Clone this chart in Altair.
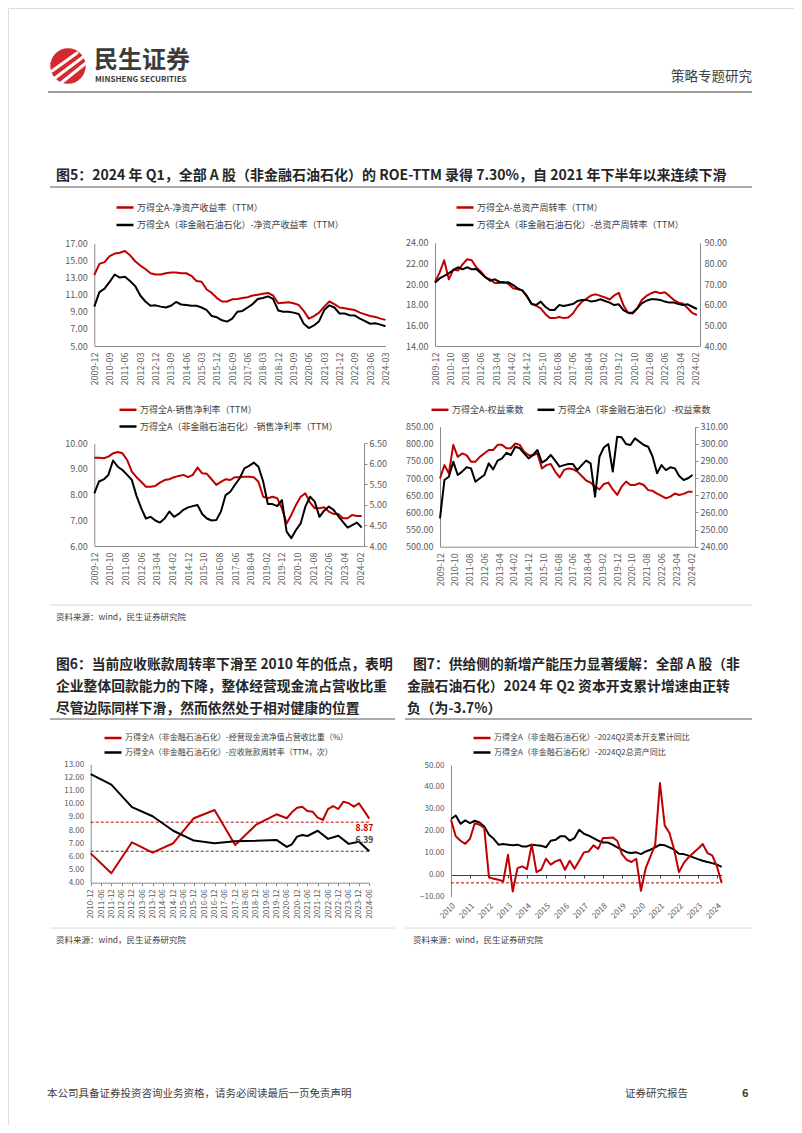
import altair as alt
import pandas as pd

W, H = 786, 1117
FONT = "Noto Sans CJK SC"
RED = "#C00000"
BLK = "#000000"
AX = "#8c8c8c"
LB = "#595959"
TXT = "#404040"


def X(p):
    return p - 8


def Y(p):
    return p - 8


# ------------------------------------------------------------------ data
q_months = list(range(0, 172, 3))  # quarterly, 2009-12 .. 2024-03 (month index)

roe_all = [13.3, 14.6, 14.8, 15.5, 15.8, 15.9, 16.1, 15.6, 14.9, 14.4,
           14.0, 13.5, 13.35, 13.35, 13.5, 13.6, 13.6, 13.5, 13.5, 13.2,
           12.6, 12.5, 11.6, 11.2, 10.6, 10.2, 10.2, 10.45, 10.5, 10.6,
           10.7, 10.9, 11.0, 11.1, 11.2, 10.9, 10.0, 10.05, 10.1, 10.0,
           9.8, 9.1, 8.2, 8.5, 8.9, 9.6, 10.2, 9.9, 9.5, 9.4,
           9.3, 9.2, 8.9, 8.7, 8.5, 8.4, 8.2, 8.05]
roe_ex = [9.6, 11.3, 11.7, 12.5, 13.35, 13.0, 13.1, 12.6, 12.0, 10.9,
          10.2, 9.7, 9.75, 9.6, 9.5, 9.7, 10.15, 9.85, 9.8, 9.7,
          9.7, 9.5, 9.2, 8.5, 8.35, 8.0, 7.85, 8.2, 9.0, 9.1,
          9.5, 9.9, 10.5, 10.6, 10.8, 10.5, 9.15, 9.0, 9.0, 8.9,
          8.75, 7.6, 7.1, 7.4, 7.9, 9.2, 9.75, 9.5, 8.8, 8.8,
          8.6, 8.55, 8.2, 7.9, 7.6, 7.65, 7.5, 7.3]

turn_all = [20.2, 21.1, 22.3, 20.45, 21.4, 21.3, 21.9, 22.4, 22.3, 21.6,
            21.2, 20.65, 20.45, 20.1, 20.1, 20.2, 20.0, 19.6, 19.5, 19.4,
            18.8, 18.1, 17.9, 17.65, 17.1, 16.7, 16.7, 16.8, 16.7, 16.75,
            17.15, 17.8, 18.3, 18.6, 18.9, 19.0, 18.85, 18.7, 18.5, 18.9,
            19.15, 17.95, 17.2, 17.15, 17.65, 18.45, 18.85, 19.1, 19.25, 19.1,
            19.2, 18.85, 18.45, 18.2, 18.1, 17.65, 17.2, 17.0]
turn_ex = [70.6, 72.7, 73.9, 75.2, 76.8, 78.1, 77.1, 78.1, 77.1, 77.3,
           75.2, 73.2, 71.6, 72.3, 71.1, 70.6, 70.8, 69.5, 67.9, 66.8,
           64.2, 60.3, 59.8, 61.5, 59.0, 57.4, 57.4, 59.8, 59.4, 59.8,
           60.3, 61.8, 62.3, 62.3, 61.5, 61.9, 62.6, 61.8, 61.0, 59.8,
           60.2, 57.4, 56.1, 56.1, 58.2, 60.6, 61.9, 62.6, 62.6, 62.3,
           61.5, 61.0, 61.0, 60.3, 59.8, 60.2, 59.0, 57.9]

npm_all = [9.44, 9.44, 9.42, 9.48, 9.61, 9.66, 9.61, 9.35, 8.9, 8.68,
           8.5, 8.31, 8.31, 8.34, 8.47, 8.57, 8.6, 8.68, 8.73, 8.77,
           8.68, 8.77, 9.06, 8.83, 8.81, 8.6, 8.38, 8.5, 8.6, 8.57,
           8.68, 8.68, 8.7, 8.7, 8.68, 8.5, 7.92, 7.86, 7.92, 7.86,
           7.47, 6.88, 7.21, 7.6, 7.92, 8.05, 7.69, 7.47, 7.47, 7.51,
           7.34, 7.25, 7.25, 7.08, 7.08, 7.21, 7.17, 7.17]
npm_ex = [5.28, 5.57, 5.62, 5.73, 6.08, 5.93, 5.85, 5.73, 5.61, 5.22,
          4.92, 4.67, 4.71, 4.62, 4.57, 4.67, 4.84, 4.71, 4.78, 4.88,
          4.94, 4.97, 5.0, 4.78, 4.67, 4.62, 4.63, 4.84, 5.24, 5.32,
          5.49, 5.65, 5.89, 5.95, 6.03, 5.93, 5.57, 5.02, 5.02, 4.97,
          5.12, 4.35, 4.19, 4.39, 4.55, 4.96, 5.2, 5.08, 4.71, 4.86,
          4.96, 4.88, 4.73, 4.59, 4.45, 4.51, 4.57, 4.45]

em_all = [699, 738, 714, 797, 762, 772, 767, 748, 748, 762,
          772, 782, 782, 797, 797, 787, 787, 801, 797, 777,
          767, 767, 772, 728, 738, 741, 719, 702, 724, 728,
          726, 719, 706, 693, 687, 675, 667, 683, 687, 667,
          651, 675, 690, 680, 680, 685, 680, 665, 663, 655,
          648, 641, 646, 655, 651, 654, 660, 660]
em_ex = [256.5, 278.9, 280.8, 289.6, 281.8, 283.8, 286.3, 285.7, 277.9, 279.9,
         281.8, 288.6, 285.1, 290.2, 291.5, 294.8, 293.5, 298.3, 297.4, 294.4,
         291.5, 293.5, 296.4, 289.0, 290.6, 293.5, 290.2, 286.7, 287.6, 288.2,
         288.2, 284.7, 287.6, 290.2, 288.6, 269.2, 292.5, 297.9, 299.9, 283.8,
         304.2, 303.8, 299.9, 299.3, 303.2, 301.3, 299.3, 298.3, 292.5, 282.8,
         287.6, 284.7, 286.3, 285.7, 281.2, 278.9, 279.9, 281.8]

# figure 6 (month index from 2010-12)
cf_months = [0, 12, 24, 36, 48, 60, 72, 84, 96, 108, 114, 117, 120, 123, 126,
             129, 132, 135, 138, 141, 144, 147, 150, 153, 156, 162]
cf_ratio = [6.23, 4.72, 7.07, 6.28, 7.0, 8.9, 9.53, 6.87, 8.39, 9.2, 8.9, 9.35, 9.7, 9.78, 9.45,
            9.4, 8.95, 8.77, 9.6, 9.83, 9.6, 10.16, 10.04, 9.78, 10.04, 8.87]
ar_months = [0, 12, 24, 36, 48, 60, 72, 84, 96, 108, 114, 117, 120, 123, 126,
             132, 138, 144, 150, 156, 162]
ar_turn = [12.25, 11.45, 9.75, 9.05, 7.95, 7.2, 7.0, 7.15, 7.18, 7.25, 6.72, 6.92, 7.5, 7.62, 7.55,
           7.95, 7.33, 7.57, 6.95, 7.12, 6.39]
cf_ref = 8.6
ar_ref = 6.39

# figure 7 (quarter index from 2010Q1)
q7 = list(range(58))
capex_yoy = [25.1, 17.5, 15.5, 14.1, 16.4, 23.5, 22.8, 21.3, -1.2, -1.8,
             -2.3, -3.0, 9.1, -7.6, 3.0, 3.8, 2.6, 13.7, 1.2, 2.3,
             7.3, 4.6, 6.1, 6.8, 2.3, 6.4, 2.7, 6.4, 10.2, 10.6,
             13.4, 11.8, 16.7, 16.7, 17.0, 15.5, 9.4, 6.8, 5.8, 7.3,
             -7.3, 3.0, 8.4, 13.7, 41.8, 22.5, 19.0, 11.4, 1.2, 5.3,
             7.9, 9.9, 11.8, 14.0, 9.9, 8.8, 3.8, -3.7]
asset_yoy = [25.4, 27.0, 23.2, 24.75, 23.5, 24.6, 23.8, 22.0, 18.2, 16.4,
             13.7, 14.0, 13.7, 13.4, 13.7, 12.9, 12.9, 13.7, 13.4, 13.2,
             12.5, 15.5, 15.9, 17.5, 17.5, 15.5, 16.7, 20.5, 18.7, 17.8,
             16.7, 15.5, 14.7, 14.7, 13.7, 12.5, 11.4, 10.3, 9.9, 10.2,
             9.4, 10.6, 11.4, 12.5, 13.7, 13.4, 12.5, 11.4, 9.6, 9.4,
             8.7, 7.9, 7.1, 6.4, 5.8, 5.3, 4.6, 3.6]
capex_ref = -3.7

# texts
s1a = "万得全A-净资产收益率（TTM）"
s1b = "万得全A（非金融石油石化）-净资产收益率（TTM）"
s2a = "万得全A-总资产周转率（TTM）"
s2b = "万得全A（非金融石油石化）-总资产周转率（TTM）"
s3a = "万得全A-销售净利率（TTM）"
s3b = "万得全A（非金融石油石化）-销售净利率（TTM）"
s4a = "万得全A-权益乘数"
s4b = "万得全A（非金融石油石化）-权益乘数"
s6a = "万得全A（非金融石油石化）-经营现金流净值占营收比重（%）"
s6b = "万得全A（非金融石油石化）-应收账款周转率（TTM，次）"
s7a = "万得全A（非金融石油石化）-2024Q2资本开支累计同比"
s7b = "万得全A（非金融石油石化）-2024Q2总资产同比"

title5 = "图5：2024 年 Q1，全部 A 股（非金融石油石化）的 ROE-TTM 录得 7.30%，自 2021 年下半年以来连续下滑"
title6 = ["图6：当前应收账款周转率下滑至 2010 年的低点，表明",
          "企业整体回款能力的下降，整体经营现金流占营收比重",
          "尽管边际同样下滑，然而依然处于相对健康的位置"]
title7 = ["图7：供给侧的新增产能压力显著缓解：全部 A 股（非",
          "金融石油石化）2024 年 Q2 资本开支累计增速由正转",
          "负（为-3.7%）"]
source = "资料来源：wind，民生证券研究院"
footer = "本公司具备证券投资咨询业务资格，请务必阅读最后一页免责声明"

# ------------------------------------------------------------------ helpers
layers = []


def sc(dom, lo, hi):
    return alt.Scale(domain=dom, range=[lo, hi], nice=False, zero=False)


def month_expr(base):
    t = f"({base} + datum.value)"
    return f"floor({t}/12) + '-' + ((({t} % 12) + 1) < 10 ? '0' : '') + (({t} % 12) + 1)"


def ax_left(xp, vals, size=9, fmt=".2f", ticks=False):
    return alt.Axis(orient="left", offset=-X(xp), values=vals, format=fmt, title=None, grid=False,
                    ticks=ticks, tickSize=3, tickColor=AX, domainColor=AX, domainWidth=1,
                    labelColor=LB, labelFont=FONT, labelFontSize=size, labelPadding=7,
                    labelOverlap=False, labelFlush=False)


def ax_right(xp, vals, size=9, fmt=".2f", ticks=False, pad=4):
    return alt.Axis(orient="right", offset=X(xp) - W, values=vals, format=fmt, title=None, grid=False,
                    ticks=ticks, tickSize=3, tickColor=AX, domainColor=AX, domainWidth=1,
                    labelColor=LB, labelFont=FONT, labelFontSize=size, labelPadding=pad,
                    labelOverlap=False, labelFlush=False)


def ax_bottom(yp, vals, expr, size=9, angle=-90, ticks=False, pad=6, domain=True,
              align="right", baseline="middle"):
    return alt.Axis(orient="bottom", offset=Y(yp) - H, values=vals, labelExpr=expr, labelAngle=angle,
                    labelAlign=align, labelBaseline=baseline, title=None, grid=False,
                    ticks=ticks, tickSize=3, tickColor=AX, domain=domain, domainColor=AX, domainWidth=1,
                    labelColor=LB, labelFont=FONT, labelFontSize=size, labelPadding=pad,
                    labelOverlap=False, labelFlush=False)


def lg(sym_left, row_y, size=9, sym_len=17):
    return alt.Legend(orient="none", legendX=X(sym_left), legendY=Y(row_y) - sym_len / 2, title=None,
                      symbolType="stroke", symbolSize=sym_len ** 2, symbolStrokeWidth=2.5,
                      labelFont=FONT, labelFontSize=size, labelColor=TXT, labelLimit=600,
                      labelOffset=2, padding=0)


def line(xs, ys, name, color, xsc, ysc, xaxis=None, yaxis=None, legend=None, sw=2.0):
    df = pd.DataFrame({"x": xs, "y": ys, "s": [name] * len(xs)})
    return alt.Chart(df).mark_line(strokeWidth=sw, strokeJoin="round").encode(
        x=alt.X("x:Q", scale=xsc, axis=xaxis),
        y=alt.Y("y:Q", scale=ysc, axis=yaxis),
        color=alt.Color("s:N", scale=alt.Scale(domain=[name], range=[color]), legend=legend),
    )


def T(s, x, y, size, color=TXT, weight="normal", align="left"):
    return alt.Chart(alt.Data(values=[{"t": s}])).mark_text(
        fontSize=size, color=color, fontWeight=weight, align=align, baseline="middle", font=FONT
    ).encode(x=alt.value(X(x)), y=alt.value(Y(y)), text="t:N")


def R(x1, x2, y, color, w=1.0):
    return alt.Chart(alt.Data(values=[{"a": 1}])).mark_rule(color=color, strokeWidth=w).encode(
        x=alt.value(X(x1)), x2=alt.value(X(x2)), y=alt.value(Y(y)))


# ------------------------------------------------------------------ page header
layers.append(alt.Chart(alt.Data(values=[{"a": 1}])).mark_circle(size=1257, color="#d42a2f", opacity=1).encode(
    x=alt.value(X(68)), y=alt.value(Y(66))))
for (a, b, c, d) in [(52, 71, 77, 53), (55, 78, 83, 57), (61, 83, 86, 63)]:
    layers.append(alt.Chart(alt.Data(values=[{"a": 1}])).mark_rule(color="white", strokeWidth=3, strokeCap="round").encode(
        x=alt.value(X(a)), y=alt.value(Y(b)), x2=alt.value(X(c)), y2=alt.value(Y(d))))
layers.append(T("民生证券", 94, 61, 24, color="#3b3b3b", weight="bold"))
layers.append(T("MINSHENG SECURITIES", 95, 80, 8, color="#3b3b3b", weight="bold"))
layers.append(T("策略专题研究", 752, 77, 13.5, color=TXT, align="right"))
layers.append(R(48, 752, 92, "#808080", 1.5))

layers.append(T(title5, 56, 176, 14, color="#262626", weight="bold"))
layers.append(R(50, 752, 187, "#595959", 1))

# ------------------------------------------------------------------ chart 1 : ROE
x1 = sc([0, 171], X(94.3), X(385.5))
y1 = sc([5, 17], Y(346), Y(243.3))
layers.append(line(q_months, roe_all, s1a, RED, x1, y1,
                   xaxis=ax_bottom(346, list(range(0, 172, 9)), month_expr(24119)),
                   yaxis=ax_left(94.3, [5, 7, 9, 11, 13, 15, 17]),
                   legend=lg(115, 206)))
layers.append(line(q_months, roe_ex, s1b, BLK, x1, y1, legend=lg(115, 223.5)))

# ------------------------------------------------------------------ chart 2 : asset turnover
x2 = sc([0, 173], X(435), X(700))
y2l = sc([14, 24], Y(346), Y(242.7))
y2r = sc([40, 90], Y(346), Y(242.7))
layers.append(line(q_months, turn_all, s2a, RED, x2, y2l,
                   xaxis=ax_bottom(346, list(range(0, 171, 10)), month_expr(24119)),
                   yaxis=ax_left(435, [14, 16, 18, 20, 22, 24]),
                   legend=lg(455, 206)))
layers.append(line(q_months, turn_ex, s2b, BLK, x2, y2r,
                   yaxis=ax_right(700, [40, 50, 60, 70, 80, 90]),
                   legend=lg(455, 223.5)))

# ------------------------------------------------------------------ chart 3 : net margin
x3 = sc([0, 172.5], X(94.3), X(364))
y3l = sc([6, 10], Y(546), Y(443.3))
y3r = sc([4, 6.5], Y(546), Y(443.3))
layers.append(line(q_months, npm_all, s3a, RED, x3, y3l,
                   xaxis=ax_bottom(546, list(range(0, 171, 10)), month_expr(24119)),
                   yaxis=ax_left(94.3, [6, 7, 8, 9, 10]),
                   legend=lg(118, 408.3)))
layers.append(line(q_months, npm_ex, s3b, BLK, x3, y3r,
                   yaxis=ax_right(364, [4.0, 4.5, 5.0, 5.5, 6.0, 6.5], ticks=True, pad=2),
                   legend=lg(118, 425)))

# ------------------------------------------------------------------ chart 4 : equity multiplier
x4 = sc([0, 172.7], X(440), X(695))
y4l = sc([500, 850], Y(546.7), Y(426.7))
y4r = sc([240, 310], Y(546.7), Y(426.7))
layers.append(line(q_months, em_all, s4a, RED, x4, y4l,
                   xaxis=ax_bottom(546.7, list(range(0, 171, 10)), month_expr(24119)),
                   yaxis=ax_left(440, list(range(500, 851, 50))),
                   legend=lg(430, 408.3)))
layers.append(line(q_months, em_ex, s4b, BLK, x4, y4r,
                   yaxis=ax_right(695, list(range(240, 311, 10)), ticks=True, pad=2),
                   legend=lg(536, 408.3)))

layers.append(R(50, 752, 605, "#d0d0d0", 0.8))
layers.append(T(source, 56, 617, 8.5, color=TXT))

# ------------------------------------------------------------------ figure 6
for i, s in enumerate(title6):
    layers.append(T(s, 56, 665 + 22 * i, 13.8, color="#262626", weight="bold"))
layers.append(R(50, 395, 719, "#595959", 1))

x6 = sc([0, 162], X(90.7), X(369.3))
y6 = sc([4, 13], Y(882.7), Y(764.3))
ref6 = pd.DataFrame({"x": [0, 0], "x2": [162, 162], "y": [cf_ref, ar_ref], "c": ["r", "k"]})
layers.append(alt.Chart(ref6).mark_rule(strokeWidth=1, strokeDash=[3, 2]).encode(
    x=alt.X("x:Q", scale=x6, axis=None), x2="x2:Q",
    y=alt.Y("y:Q", scale=y6, axis=None),
    color=alt.Color("c:N", scale=alt.Scale(domain=["r", "k"], range=[RED, "#404040"]), legend=None)))
layers.append(line(cf_months, cf_ratio, s6a, RED, x6, y6,
                   xaxis=ax_bottom(882.7, list(range(0, 163, 6)), month_expr(24131), size=8, ticks=True, pad=3),
                   yaxis=ax_left(90.7, list(range(4, 14)), size=8),
                   legend=lg(103, 736.5, size=8)))
layers.append(line(ar_months, ar_turn, s6b, BLK, x6, y6, legend=lg(103, 751, size=8)))
end_red = pd.DataFrame({"x": [cf_months[-1]], "y": [cf_ratio[-1]], "t": [f"{cf_ratio[-1]:.2f}"]})
end_blk = pd.DataFrame({"x": [ar_months[-1]], "y": [ar_turn[-1]], "t": [f"{ar_turn[-1]:.2f}"]})
layers.append(alt.Chart(end_red).mark_text(align="right", dx=4, dy=9, fontSize=8.5, fontWeight="bold",
                                           font=FONT, color=RED).encode(
    x=alt.X("x:Q", scale=x6, axis=None), y=alt.Y("y:Q", scale=y6, axis=None), text="t:N"))
layers.append(alt.Chart(end_blk).mark_text(align="right", dx=4, dy=-11, fontSize=8.5, fontWeight="bold",
                                           font=FONT, color="#404040").encode(
    x=alt.X("x:Q", scale=x6, axis=None), y=alt.Y("y:Q", scale=y6, axis=None), text="t:N"))

# ------------------------------------------------------------------ figure 7
layers.append(T(title7[0], 413, 665, 13.8, color="#262626", weight="bold"))
layers.append(T(title7[1], 407, 687, 13.8, color="#262626", weight="bold"))
layers.append(T(title7[2], 407, 709, 13.8, color="#262626", weight="bold"))
layers.append(R(405, 752, 719, "#595959", 1))

x7 = sc([0, 57], X(451), X(721.7))
y7 = sc([-10, 50], Y(896.7), Y(765))
ref7 = pd.DataFrame({"x": [0], "x2": [57], "y": [capex_ref]})
layers.append(alt.Chart(ref7).mark_rule(strokeWidth=1, strokeDash=[3, 2], color=RED).encode(
    x=alt.X("x:Q", scale=x7, axis=None), x2="x2:Q",
    y=alt.Y("y:Q", scale=y7, axis=None)))
layers.append(line(q7, asset_yoy, s7b, BLK, x7, y7,
                   xaxis=alt.Axis(orient="bottom", offset=Y(875) - H, values=list(range(4, 57, 4)),
                                  labels=False, ticks=True, tickSize=3, tickColor="#404040",
                                  domainColor="#404040", grid=False, title=None),
                   legend=lg(472, 751, size=8)))
layers.append(line(q7, capex_yoy, s7a, RED, x7, y7,
                   xaxis=ax_bottom(896.7, list(range(0, 57, 4)), "'' + (2010 + datum.value / 4)",
                                   size=8, angle=-45, domain=False, pad=5, align="right", baseline="top"),
                   yaxis=ax_left(451, list(range(-10, 51, 10)), size=8),
                   legend=lg(472, 736.5, size=8)))

layers.append(R(50, 395, 928, "#d0d0d0", 0.8))
layers.append(R(405, 752, 928, "#d0d0d0", 0.8))
layers.append(T(source, 56, 940, 8.5))
layers.append(T(source, 413, 940, 8.5))

# ------------------------------------------------------------------ footer
layers.append(T(footer, 47, 1094, 10.5))
layers.append(T("证券研究报告", 625, 1094, 10.5))
layers.append(T("6", 742, 1094, 11, weight="bold"))

chart = alt.layer(*layers).resolve_scale(
    x="independent", y="independent", color="independent"
).properties(
    width=W, height=H, padding=0, autosize=alt.AutoSizeParams(type="none")
).configure_view(strokeWidth=0).configure(font=FONT)

chart.save("out.html", embed_options={"renderer": "svg", "actions": False})
